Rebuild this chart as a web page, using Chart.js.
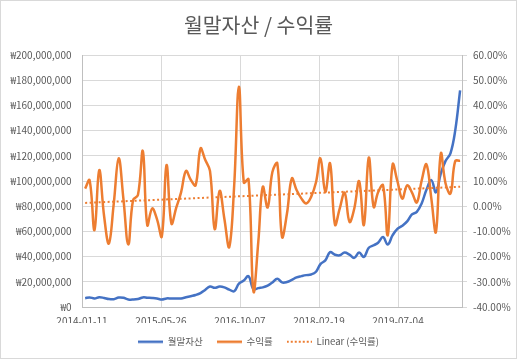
<!DOCTYPE html>
<html><head><meta charset="utf-8">
<script src="https://cdn.jsdelivr.net/npm/chart.js@4"></script>
<style>html,body{margin:0;padding:0;background:#fff;overflow:hidden}</style>
</head><body>
<canvas id="c" width="517" height="359"></canvas>
<script>
// ---- data ----
const months = [
 '2014-01','2014-02','2014-03','2014-04','2014-05','2014-06','2014-07','2014-08','2014-09','2014-10','2014-11','2014-12',
 '2015-01','2015-02','2015-03','2015-04','2015-05','2015-06','2015-07','2015-08','2015-09','2015-10','2015-11','2015-12',
 '2016-01','2016-02','2016-03','2016-04','2016-05','2016-06','2016-07','2016-08','2016-09','2016-10','2016-11','2016-12',
 '2017-01','2017-02','2017-03','2017-04','2017-05','2017-06','2017-07','2017-08','2017-09','2017-10','2017-11','2017-12',
 '2018-01','2018-02','2018-03','2018-04','2018-05','2018-06','2018-07','2018-08','2018-09','2018-10','2018-11','2018-12',
 '2019-01','2019-02','2019-03','2019-04','2019-05','2019-06','2019-07','2019-08','2019-09','2019-10','2019-11','2019-12',
 '2020-01','2020-02','2020-03','2020-04','2020-05','2020-06','2020-07'
];
// 월말자산, in millions of won
const assetsMillionWon = [
 7,7.6,6.8,7.8,7.2,6.3,6.2,7.5,7.3,6,5.9,6.3,
 7.6,7.4,7.2,6.8,5.9,6.8,6.7,6.7,6.8,7.7,8.6,9.5,
 11,13.5,16.3,15.2,16.2,15.6,13.8,12.5,18.5,21,24.5,14,
 15,15.6,17,19.5,22.5,19.5,19.8,21.5,23.5,24.5,25.3,25.8,
 28,34,37,43.5,41.5,41,43.2,41.5,39,43.2,39.7,47,
 49,51,55.5,49.6,57,62,64.5,68,73.5,75.5,82,93,
 100.7,91,106,116,122,140,172
];
// 수익률, percent
const returnsPct = [
 7,10.3,-9.5,14.3,-4,-14.8,1,19,3,-15.2,2.4,4.4,
 21.9,-7.5,-0.9,-5,-12,16.3,-6.9,-0.5,5.5,14,10.5,8.3,
 22.9,18.5,14,-9.1,6.1,-5,-16.2,8,47.4,9.4,10.7,-33.8,
 -14,7.7,-0.5,13.6,17,-12.2,-3,11,6.4,3,1.1,3.7,
 9.5,19,5.7,17,-7.3,-1,5.4,-6.2,-1,9.9,-7.5,19.3,
 -0.3,5.5,8.3,-11.5,16.6,10,3,8.3,5.5,1.5,10,16.6,
 3,-10.2,20.9,9,5,17.9,18
];
// Linear (수익률) trend line, start and end values in percent
const trendPct = [1.3, 7.7];
const xTickLabels = ['2014-01-11','2015-05-26','2016-10-07','2018-02-19','2019-07-04'];
const axisEndDate = '2020-08-12';
const seriesNames = ['월말자산','수익률','Linear (수익률)'];
const chartTitle = '월말자산 / 수익률';

// ---- helpers ----
const DAY = 86400000;
function ymd(s){const p=s.split('-').map(Number);return Date.UTC(p[0],p[1]-1,p[2]);}
const t0 = ymd(xTickLabels[0]);
const dayOf = s => (ymd(s)-t0)/DAY;
const monthEndDay = m => {const p=m.split('-').map(Number);return (Date.UTC(p[0],p[1],0)-t0)/DAY;};
const xs = months.map(monthEndDay);

const FONT = "'Malgun Gothic','Noto Sans CJK KR','Noto Sans',sans-serif";
const GREY = '#595959';
const BLUE = '#4472C4', ORANGE = '#ED7D31';

// legend glyph: short line sample, solid or dotted
function lineGlyph(color, width, dash){
  const c=document.createElement('canvas');c.width=25;c.height=4;
  const g=c.getContext('2d');g.strokeStyle=color;g.lineWidth=width;g.setLineDash(dash||[]);
  g.beginPath();g.moveTo(0,2);g.lineTo(25,2);g.stroke();return c;
}

const frame = {
  id:'frame',
  beforeDraw(chart){
    const c=chart.ctx;c.save();c.fillStyle='#fff';c.fillRect(0,0,chart.width,chart.height);
    c.strokeStyle='#d9d9d9';c.lineWidth=1;c.strokeRect(0.5,0.5,chart.width-1,chart.height-1);c.restore();
  }
};

new Chart(document.getElementById('c'), {
  type:'line',
  data:{datasets:[
    {label:seriesNames[0], data:xs.map((x,i)=>({x, y:assetsMillionWon[i]*1e6})), yAxisID:'y',
     borderColor:BLUE, backgroundColor:BLUE, borderWidth:2.5, tension:0.4, pointRadius:0,
     pointStyle:lineGlyph(BLUE,2.5), order:3},
    {label:seriesNames[1], data:xs.map((x,i)=>({x, y:returnsPct[i]})), yAxisID:'y2',
     borderColor:ORANGE, backgroundColor:ORANGE, borderWidth:2.5, tension:0.4, pointRadius:0,
     pointStyle:lineGlyph(ORANGE,2.5), order:2},
    {label:seriesNames[2], data:[{x:xs[0], y:trendPct[0]},{x:xs[xs.length-1], y:trendPct[1]}], yAxisID:'y2',
     borderColor:ORANGE, backgroundColor:ORANGE, borderWidth:2, borderDash:[2,2.5], tension:0, pointRadius:0,
     pointStyle:lineGlyph(ORANGE,2,[2,2]), order:1}
  ]},
  options:{
    responsive:false, animation:false, devicePixelRatio:1,
    layout:{padding:{left:0,right:0,top:0,bottom:6}},
    plugins:{
      title:{display:true, text:chartTitle, color:GREY, font:{family:FONT,size:20.5,weight:'normal',lineHeight:1.2}, padding:{top:13,bottom:17.4}},
      legend:{position:'bottom', maxHeight:30,
        labels:{usePointStyle:true, pointStyleWidth:25, padding:14, color:GREY, font:{family:FONT,size:9.5},
          sort:(a,b)=>a.datasetIndex-b.datasetIndex}},
      tooltip:{enabled:false}
    },
    scales:{
      x:{type:'linear', min:0, max:dayOf(axisEndDate),
        afterBuildTicks:s=>{s.ticks = xTickLabels.map(l=>({value:dayOf(l)}));},
        ticks:{autoSkip:false, maxRotation:0, padding:8, color:GREY, font:{family:FONT,size:10},
          callback:(v,i)=>xTickLabels[i]},
        grid:{color:'#d9d9d9', drawTicks:false}, border:{color:'#bfbfbf'},
        afterFit:s=>{s.height=16;}},
      y:{position:'left', min:0, max:2e8,
        ticks:{stepSize:2e7, padding:10.5, color:GREY, font:{family:FONT,size:10},
          callback:v=>'₩'+Number(v).toLocaleString('en-US')},
        grid:{color:'#d9d9d9', drawTicks:false}, border:{color:'#bfbfbf'},
        afterFit:s=>{s.width=82;}},
      y2:{position:'right', min:-40, max:60,
        ticks:{stepSize:10, padding:6, color:GREY, font:{family:FONT,size:10},
          callback:v=>Number(v).toFixed(2)+'%'},
        grid:{drawOnChartArea:false, tickLength:5, color:'#d9d9d9'}, border:{color:'#bfbfbf'},
        afterFit:s=>{s.width=55;}}
    }
  },
  plugins:[frame]
});
</script>
</body></html>
